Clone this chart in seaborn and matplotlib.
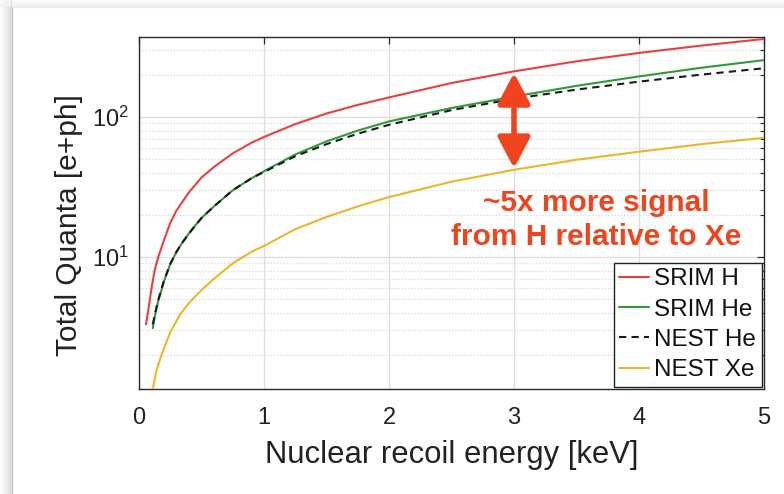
import numpy as np
import pandas as pd
import matplotlib
matplotlib.use("Agg")
import matplotlib.pyplot as plt
import seaborn as sns
from matplotlib.ticker import LogLocator, NullFormatter, FixedLocator
from matplotlib.patches import FancyArrowPatch

# ---- data ----
srim_h_E = [0.056, 0.08, 0.1, 0.125, 0.154, 0.2, 0.25, 0.3, 0.35, 0.4, 0.5, 0.6, 0.75, 0.9, 1,
            1.25, 1.5, 1.75, 2, 2.5, 3, 3.5, 4, 4.5, 5]
srim_h_Q = [3.3, 4.5, 6.0, 8.0, 10.0, 13.2, 17.5, 21.5, 25, 29, 37, 44, 55, 65.5, 72,
            89, 106, 122, 138, 175, 212, 250, 287, 324, 361]

srim_he_E = [0.11, 0.13, 0.15, 0.2, 0.25, 0.3, 0.35, 0.42, 0.5, 0.6, 0.75, 0.9, 1,
             1.25, 1.5, 1.75, 2, 2.5, 3, 3.5, 4, 4.5, 5]
srim_he_Q = [3.1, 3.9, 4.7, 6.7, 8.9, 10.9, 12.8, 15.6, 19, 23, 30, 36.5, 41,
             54, 67, 80, 93, 116, 140, 167, 195, 225, 255]

nest_he_E = [0.11, 0.13, 0.15, 0.2, 0.25, 0.3, 0.35, 0.42, 0.5, 0.6, 0.75, 0.9, 1,
             1.25, 1.5, 1.75, 2, 2.5, 3, 3.5, 4, 4.5, 5]
nest_he_Q = [3.3, 4.0, 4.8, 6.8, 8.9, 10.9, 12.8, 15.5, 19, 23, 30, 36.5, 40.5,
             52.5, 64, 76, 88, 112, 135, 157, 179, 201, 223]

nest_xe_E = [0.11, 0.14, 0.18, 0.25, 0.33, 0.4, 0.5, 0.6, 0.75, 0.9, 1,
             1.25, 1.5, 1.75, 2, 2.5, 3, 3.5, 4, 4.5, 5]
nest_xe_Q = [1.14, 1.55, 2.0, 2.9, 3.9, 4.7, 5.8, 7.0, 9.0, 10.9, 12,
             15.8, 19.3, 23, 26.8, 34.5, 42, 49.5, 56.5, 64, 71]

series_names = ["SRIM H", "SRIM He", "NEST He", "NEST Xe"]
x_ticks = [0, 1, 2, 3, 4, 5]
annot_E = 3
annot_text = "~5x more signal\nfrom H relative to Xe"

# ---- style ----
sns.set_theme(style="white")
plt.rcParams["font.family"] = ["Liberation Sans", "DejaVu Sans"]
plt.rcParams["mathtext.fontset"] = "custom"
plt.rcParams["mathtext.rm"] = "Liberation Sans"

W, H = 784, 494
fig = plt.figure(figsize=(W / 100, H / 100), dpi=100)
fig.patch.set_facecolor("white")

# card background with soft shadow on the left / top
bg = np.ones((H, W, 3))
cols = np.arange(W)
rows = np.arange(H)
shade_x = np.clip(cols / 11.0, 0, 1) * 0.13
shade_x[cols > 11] = 0
shade_y = np.clip(rows / 7.0, 0, 1) * 0.06
shade_y[rows > 7] = 0
shade = np.maximum(shade_x[None, :], shade_y[:, None])
shade[:7, :11] = np.minimum(shade[:7, :11], 0.05)
bg -= shade[:, :, None]
bax = fig.add_axes([0, 0, 1, 1], zorder=-5)
bax.imshow(bg, aspect="auto", interpolation="bilinear")
bax.axis("off")
fig.add_artist(plt.Line2D([11.5 / W, 11.5 / W], [0, 1 - 7 / H], transform=fig.transFigure,
                          color="#c4c4c4", lw=1.0))
fig.add_artist(plt.Line2D([11.5 / W, 1.0], [1 - 7.5 / H, 1 - 7.5 / H], transform=fig.transFigure,
                          color="#ebebeb", lw=1.0))

ax = fig.add_axes([139 / W, 1 - 389 / H, 625 / W, 352 / H])

frames = []
for name, E, Q in [("SRIM H", srim_h_E, srim_h_Q), ("SRIM He", srim_he_E, srim_he_Q),
                   ("NEST He", nest_he_E, nest_he_Q), ("NEST Xe", nest_xe_E, nest_xe_Q)]:
    frames.append(pd.DataFrame({"E": E, "Q": Q, "series": name}))
df = pd.concat(frames, ignore_index=True)

palette = {"SRIM H": "#e8403f", "SRIM He": "#2f9a3a", "NEST He": "#1a1a1a", "NEST Xe": "#ecb52e"}
dashes = {"SRIM H": "", "SRIM He": "", "NEST He": (3.5, 2.5), "NEST Xe": ""}
sns.lineplot(data=df, x="E", y="Q", hue="series", style="series", hue_order=series_names,
             style_order=series_names, palette=palette, dashes=dashes, lw=1.5,
             sort=False, ax=ax, legend=True, zorder=3)

ax.set_yscale("log")
ax.set_xlim(0, 5)
ax.set_ylim(1.14, 373)
ax.xaxis.set_major_locator(FixedLocator(x_ticks))
ax.yaxis.set_major_locator(LogLocator(base=10, numticks=10))
ax.yaxis.set_minor_locator(LogLocator(base=10, subs=np.arange(2, 10), numticks=10))
ax.yaxis.set_minor_formatter(NullFormatter())

ax.grid(True, which="major", axis="both", color="#dcdcdc", lw=0.9, ls="-", zorder=0)
ax.grid(True, which="minor", axis="y", color="#d8d8d8", lw=0.9, ls=(0, (1, 1.5)), zorder=0)
ax.set_axisbelow(True)

for s in ax.spines.values():
    s.set_color("#2a2a2a")
    s.set_linewidth(1.0)
    s.set_visible(True)

ax.tick_params(axis="both", which="both", direction="in", top=True, right=True,
               colors="#2a2a2a", labelcolor="#222222")
ax.tick_params(axis="both", which="major", length=5, width=0.9, labelsize=17)
ax.tick_params(axis="y", which="minor", length=3, width=0.8)
ax.tick_params(axis="x", which="major", pad=13)
ax.tick_params(axis="y", which="major", pad=7)

ax.set_xlabel("Nuclear recoil energy [keV]", fontsize=22.3, color="#222222", labelpad=8)
ax.set_ylabel("Total Quanta [e+ph]", fontsize=21.5, color="#222222")
ax.yaxis.set_label_coords(-0.090, 0.466)

# annotation arrow between SRIM H and NEST Xe at 3 keV
y_top = srim_h_Q[srim_h_E.index(annot_E)]
y_bot = nest_xe_Q[nest_xe_E.index(annot_E)]
arrow = FancyArrowPatch((annot_E, y_top), (annot_E, y_bot),
                        arrowstyle="<|-|>,head_length=1.05,head_width=0.55",
                        mutation_scale=18, color="#f0441e", lw=4.0, shrinkA=1, shrinkB=1,
                        joinstyle="round", capstyle="butt", zorder=5)
ax.add_patch(arrow)
ax.text(3.656, 18.4, annot_text, ha="center", va="center", fontsize=21.5, fontweight="bold",
        color="#f0441e", linespacing=1.3, zorder=6)

leg = ax.legend(loc="lower right", fontsize=17.5, frameon=True, fancybox=False,
                edgecolor="#222222", framealpha=1, borderaxespad=0.1, handlelength=1.25,
                handletextpad=0.2, labelspacing=0.34, borderpad=0.22, title=None)
leg.get_frame().set_linewidth(1.0)
for t in leg.get_texts():
    t.set_color("#111111")

fig.savefig("out.png", dpi=100, facecolor="white")
